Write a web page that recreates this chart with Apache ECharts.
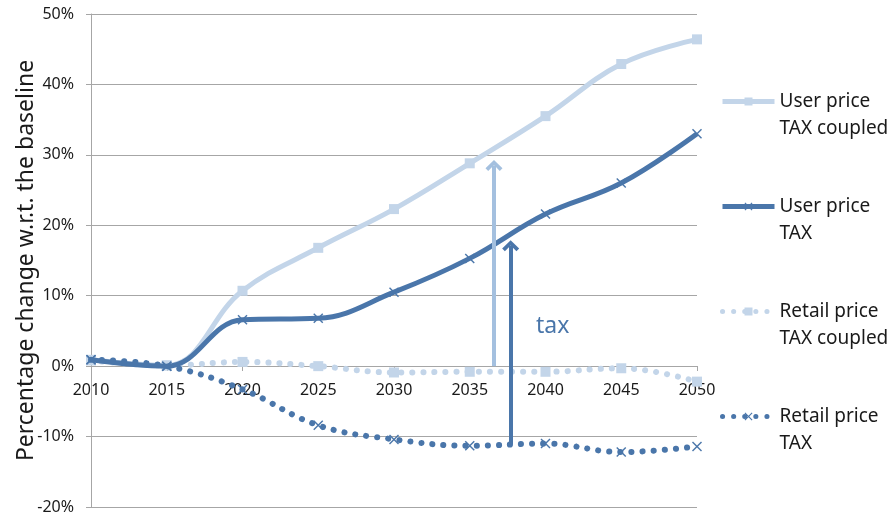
<!DOCTYPE html>
<html>
<head>
<meta charset="utf-8">
<script src="https://cdn.jsdelivr.net/npm/echarts@6/dist/echarts.min.js"></script>
<style>html,body{margin:0;padding:0;background:#fff;}#c{width:892px;height:517px;}</style>
</head>
<body>
<div id="c"></div>
<script>
const years = [2010, 2015, 2020, 2025, 2030, 2035, 2040, 2045, 2050];
const userCoupled = [0.9, 0.1, 10.7, 16.8, 22.3, 28.8, 35.5, 42.9, 46.4];
const userTax = [0.9, 0.0, 6.6, 6.8, 10.5, 15.3, 21.6, 26.0, 33.0];
const retailCoupled = [0.8, 0.1, 0.6, 0.0, -0.9, -0.8, -0.8, -0.3, -2.2];
const retailTax = [0.9, 0.0, -3.3, -8.4, -10.4, -11.3, -11.0, -12.2, -11.4];
const seriesNames = ['User price\nTAX coupled', 'User price\nTAX', 'Retail price\nTAX coupled', 'Retail price\nTAX'];
// annotation arrows: [x, fromY, toY]
const arrowCoupled = [2036.6, 0.0, 28.5];
const arrowTax = [2037.7, -11.1, 17.1];
const annotationText = 'tax';
const yAxisTitle = 'Percentage change w.r.t. the baseline';

const LIGHT = '#c3d5e9';
const DARK = '#4a76aa';
const LIGHT_ARROW = '#a4c0df';
const FONT = 'Noto Sans';
const DOTS = [0.1, 11];
const xSym = 'path://M0,1 L1,0 L5,4 L9,0 L10,1 L6,5 L10,9 L9,10 L5,6 L1,10 L0,9 L4,5 Z';
const chevron = 'path://M5,0 L10,5.2 L8.4,6.8 L5,3.2 L1.6,6.8 L0,5.2 Z';

function pairs(vals) { return years.map((y, i) => [y, vals[i]]); }

const chart = echarts.init(document.getElementById('c'), null, {renderer: 'canvas'});
chart.setOption({
  animation: false,
  grid: {left: 91, right: 195, top: 14, bottom: 10, containLabel: false, outerBoundsMode: 'none'},
  xAxis: {
    type: 'value', min: 2010, max: 2050, interval: 5,
    offset: -141,
    axisLine: {show: true, onZero: false, lineStyle: {color: '#a6a6a6', width: 1}},
    axisTick: {show: true, length: 5, inside: false, lineStyle: {color: '#a6a6a6'}},
    axisLabel: {margin: 16, fontFamily: FONT, fontSize: 16, color: '#1a1a1a', formatter: v => String(v), hideOverlap: false},
    splitLine: {show: false}
  },
  yAxis: {
    type: 'value', min: -20, max: 50, interval: 10,
    name: yAxisTitle, nameLocation: 'middle', nameRotate: 90, nameGap: 53, nameMoveOverlap: false,
    nameTextStyle: {fontFamily: FONT, fontSize: 23, color: '#1a1a1a'},
    axisLine: {show: true, onZero: false, lineStyle: {color: '#a6a6a6', width: 1}},
    axisTick: {show: true, length: 5, lineStyle: {color: '#a6a6a6'}},
    axisLabel: {margin: 17, fontFamily: FONT, fontSize: 16, color: '#1a1a1a', formatter: '{value}%'},
    splitLine: {show: true, lineStyle: {color: '#a6a6a6', width: 1}}
  },
  legend: {
    orient: 'vertical', left: 720, top: 61, itemGap: 24, padding: 0,
    itemWidth: 52, itemHeight: 10,
    data: [
      {name: seriesNames[0], lineStyle: {width: 5}},
      {name: seriesNames[1], lineStyle: {width: 5}},
      {name: seriesNames[2], lineStyle: {width: 5, type: DOTS, cap: 'round'}},
      {name: seriesNames[3], lineStyle: {width: 5, type: DOTS, cap: 'round'}}
    ],
    formatter: name => '\n' + name,
    textStyle: {fontFamily: FONT, fontSize: 19, color: '#1a1a1a', lineHeight: 27}
  },
  series: [
    {
      name: seriesNames[0], type: 'line', data: pairs(userCoupled), smooth: 0.4,
      symbol: 'rect', symbolSize: 10, z: 2,
      itemStyle: {color: LIGHT}, lineStyle: {color: LIGHT, width: 5},
      markLine: {
        silent: true, symbol: ['none', chevron], symbolSize: [17, 11], precision: 2,
        label: {show: false}, lineStyle: {type: 'solid', color: LIGHT_ARROW, width: 4},
        emphasis: {disabled: true},
        data: [[{coord: [arrowCoupled[0], arrowCoupled[1]]}, {coord: [arrowCoupled[0], arrowCoupled[2]]}]]
      }
    },
    {
      name: seriesNames[1], type: 'line', data: pairs(userTax), smooth: 0.4,
      symbol: xSym, symbolSize: 10, z: 3,
      itemStyle: {color: DARK}, lineStyle: {color: DARK, width: 5},
      markLine: {
        silent: true, symbol: ['none', chevron], symbolSize: [17, 11], precision: 2,
        label: {show: false}, lineStyle: {type: 'solid', color: DARK, width: 4},
        emphasis: {disabled: true},
        data: [[{coord: [arrowTax[0], arrowTax[1]]}, {coord: [arrowTax[0], arrowTax[2]]}]]
      }
    },
    {
      name: seriesNames[2], type: 'line', data: pairs(retailCoupled), smooth: 0.4,
      symbol: 'rect', symbolSize: 10, z: 2,
      itemStyle: {color: LIGHT}, lineStyle: {color: LIGHT, width: 6, type: DOTS, cap: 'round'}
    },
    {
      name: seriesNames[3], type: 'line', data: pairs(retailTax), smooth: 0.4,
      symbol: xSym, symbolSize: 10, z: 3,
      itemStyle: {color: DARK}, lineStyle: {color: DARK, width: 6, type: DOTS, cap: 'round'}
    }
  ],
  graphic: [{
    type: 'text', left: 536, top: 315,
    style: {text: annotationText, fill: DARK, font: '23px "Noto Sans"'}
  }]
});
</script>
</body>
</html>
